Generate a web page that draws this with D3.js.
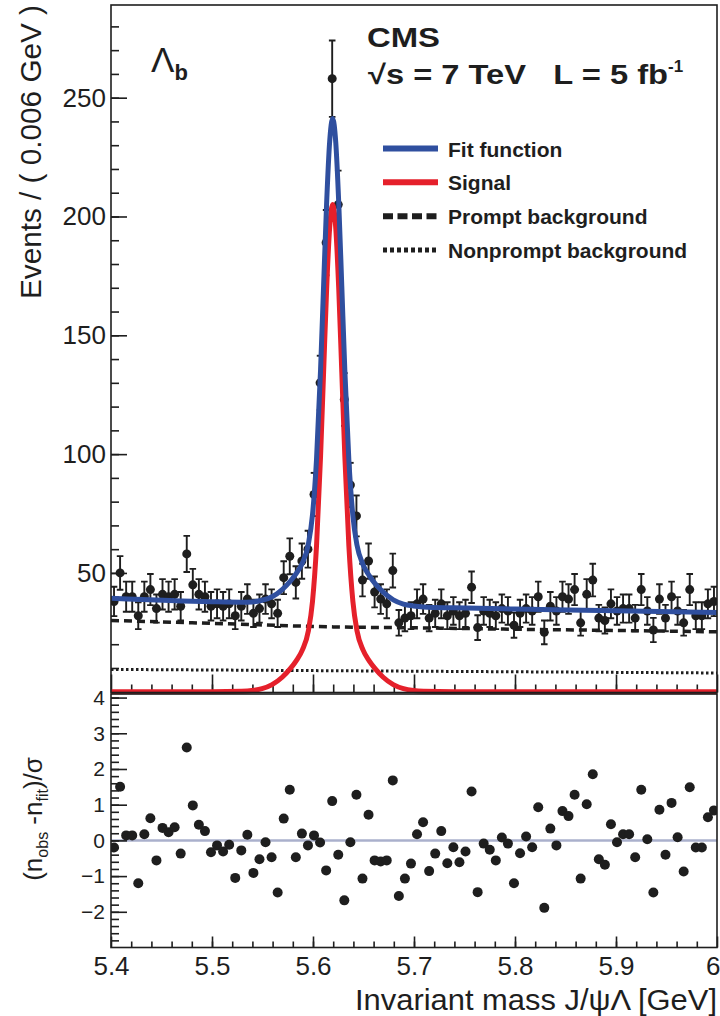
<!DOCTYPE html>
<html>
<head>
<meta charset="utf-8">
<script src="https://cdn.jsdelivr.net/npm/d3@7"></script>
<style>
  body { margin: 0; background: #fff; }
  text { font-family: 'Liberation Sans', Arial, Helvetica, sans-serif; fill: #1e1e1e; }
</style>
</head>
<body>
<div class="chart"></div>
<script>
// Lambda_b -> J/psi Lambda mass fit

// histogram: 100 bins of 0.006 GeV from 5.4 to 6.0
var binLow = 5.4, binWidth = 0.006;
var counts = [
  38, 50, 40, 40, 32, 40, 43, 35, 41, 40,
  41, 36, 58, 45, 41, 40, 36, 37, 36, 37,
  32, 36, 39, 33, 35, 39, 37, 33, 48, 57,
  46, 55, 60, 83, 130, 189, 258, 205, 123, 87,
  74, 47, 55, 42, 39, 37, 51, 29, 31, 32,
  37, 39, 31, 33, 37, 32, 34, 32, 33, 44,
  27, 34, 33, 32, 35, 34, 28, 33, 35, 34,
  40, 25, 36, 34, 40, 39, 43, 29, 41, 47,
  31, 30, 37, 34, 35, 35, 31, 43, 34, 26,
  39, 31, 40, 34, 29, 43, 32, 32, 37, 38
];
var pulls = [
  -0.20, 1.50, 0.14, 0.14, -1.20, 0.17, 0.62, -0.56, 0.35, 0.23,
  0.37, -0.37, 2.60, 0.98, 0.44, 0.26, -0.33, -0.14, -0.31, -0.12,
  -1.05, -0.28, 0.16, -0.91, -0.53, -0.05, -0.47, -1.46, 0.61, 1.42,
  -0.47, 0.19, -0.14, 0.14, -0.06, -0.84, 1.10, -0.40, -1.68, -0.05,
  1.28, -1.07, 0.72, -0.56, -0.59, -0.56, 1.68, -1.56, -1.07, -0.65,
  0.17, 0.51, -0.86, -0.37, 0.26, -0.64, -0.19, -0.61, -0.31, 1.37,
  -1.45, -0.09, -0.26, -0.56, 0.08, -0.09, -1.20, -0.36, 0.11, -0.19,
  0.93, -1.89, 0.33, -0.14, 0.82, 0.68, 1.28, -1.07, 1.01, 1.85,
  -0.53, -0.68, 0.45, -0.05, 0.17, 0.17, -0.47, 1.42, 0.03, -1.46,
  0.86, -0.40, 1.05, 0.09, -0.87, 1.49, -0.20, -0.20, 0.65, 0.84
];

// fit curves sampled along the mass axis
var curveMass = [
  5.4000, 5.4995, 5.5295, 5.5395, 5.5495, 5.5595, 5.5695, 5.5775, 5.5835, 5.5895,
  5.5955, 5.5995, 5.6035, 5.6075, 5.6105, 5.6135, 5.6165, 5.6195, 5.6225, 5.6255,
  5.6285, 5.6315, 5.6355, 5.6395, 5.6435, 5.6495, 5.6555, 5.6615, 5.6695, 5.6795,
  5.6895, 5.6995, 5.7095, 5.7395, 5.8000, 5.9000, 6.0000
];
var fitVals = [
  39.4, 37.9, 37.7, 37.8, 38.5, 40.0, 43.0, 46.5, 49.8, 54.2,
  62.3, 74.5, 97.9, 135.6, 170.9, 205.7, 231.5, 241.2, 231.4, 205.6,
  170.7, 135.4, 97.5, 74.0, 61.8, 53.5, 49.0, 45.5, 41.9, 38.7,
  36.9, 36.1, 35.7, 35.3, 34.8, 34.1, 33.3
];
var signalVals = [
  0, 0, 0.2, 0.5, 1.3, 3.0, 6.1, 9.7, 13.1, 17.6,
  25.8, 38.0, 61.5, 99.3, 134.6, 169.5, 195.3, 205.0, 195.3, 169.5,
  134.6, 99.3, 61.5, 38.0, 25.8, 17.6, 13.1, 9.7, 6.1, 3.0,
  1.3, 0.5, 0.2, 0, 0, 0, 0
];
var promptMass = [5.4, 5.5, 5.62, 5.7, 5.8, 5.9, 6.0];
var promptVals = [30.0, 28.8, 27.3, 26.9, 26.3, 25.8, 25.2];
var nonpromptMass = [5.4, 6.0];
var nonpromptVals = [9.4, 7.9];

var legendLabels = ['Fit function', 'Signal', 'Prompt background', 'Nonprompt background'];
var topTicks = [50, 100, 150, 200, 250];
var pullTicks = [-2, -1, 0, 1, 2, 3, 4];
var massTicks = [5.4, 5.5, 5.6, 5.7, 5.8, 5.9, 6.0];

var blue = '#2f4f9f', red = '#e5202b', ink = '#1e1e1e';

var W = 720, H = 1016;
var svg = d3.select('.chart').append('svg').attr('width', W).attr('height', H);
svg.append('rect').attr('width', W).attr('height', H).attr('fill', '#fff');

var fr = { left: 111, right: 717, top: 5, mid: 692.5, pullTop: 694, bottom: 947.5 };

var x = d3.scaleLinear().domain([5.4, 6.0]).range([fr.left, fr.right]);
var y = d3.scaleLinear().domain([0, 289]).range([691.75, fr.top]);
var yp = d3.scaleLinear().domain([-3, 4.1]).range([fr.bottom, fr.pullTop]);

svg.append('clipPath').attr('id', 'clipTop')
  .append('rect').attr('x', fr.left).attr('y', fr.top).attr('width', fr.right - fr.left).attr('height', fr.mid - fr.top + 2);
svg.append('clipPath').attr('id', 'clipBot')
  .append('rect').attr('x', fr.left).attr('y', fr.pullTop).attr('width', fr.right - fr.left).attr('height', fr.bottom - fr.pullTop);

function styleAxis(g, size) {
  g.select('.domain').remove();
  g.selectAll('line').attr('stroke', ink).attr('stroke-width', 1.6);
  g.selectAll('text').attr('font-size', size).attr('fill', ink)
    .style('font-family', "'Liberation Sans', Arial, sans-serif");
}

// ---- top panel axes
var gy = svg.append('g').attr('transform', 'translate(' + fr.left + ',0)')
  .call(d3.axisLeft(y).tickValues(topTicks).tickSize(-16).tickPadding(5).tickFormat(d3.format('d')));
styleAxis(gy, 26);
var gyMinor = svg.append('g').attr('transform', 'translate(' + fr.left + ',0)')
  .call(d3.axisLeft(y).tickValues(d3.range(10, 289, 10)).tickSize(-8).tickFormat(''));
styleAxis(gyMinor, 0);
var gxTop = svg.append('g').attr('transform', 'translate(0,' + fr.mid + ')')
  .call(d3.axisBottom(x).tickValues(massTicks).tickSize(-18).tickFormat(''));
styleAxis(gxTop, 0);
var gxTopMinor = svg.append('g').attr('transform', 'translate(0,' + fr.mid + ')')
  .call(d3.axisBottom(x).tickValues(d3.range(5.42, 5.999, 0.02)).tickSize(-8).tickFormat(''));
styleAxis(gxTopMinor, 0);

// ---- data (top)
var bins = counts.map(function(n, i) {
  return { m: binLow + binWidth * (i + 0.5), n: n, p: pulls[i] };
});

var gData = svg.append('g').attr('clip-path', 'url(#clipTop)');
var bar = gData.selectAll('.err').data(bins).enter().append('g').attr('class', 'err');
bar.append('line')
  .attr('x1', function(d) { return x(d.m); }).attr('x2', function(d) { return x(d.m); })
  .attr('y1', function(d) { return y(d.n + Math.sqrt(d.n)); })
  .attr('y2', function(d) { return y(d.n - Math.sqrt(d.n)); })
  .attr('stroke', ink).attr('stroke-width', 1.9);
[1, -1].forEach(function(s) {
  bar.append('line')
    .attr('x1', function(d) { return x(d.m) - 3.3; }).attr('x2', function(d) { return x(d.m) + 3.3; })
    .attr('y1', function(d) { return y(d.n + s * Math.sqrt(d.n)); })
    .attr('y2', function(d) { return y(d.n + s * Math.sqrt(d.n)); })
    .attr('stroke', ink).attr('stroke-width', 1.9);
});
gData.selectAll('.pt').data(bins).enter().append('circle').attr('class', 'pt')
  .attr('cx', function(d) { return x(d.m); })
  .attr('cy', function(d) { return y(d.n); })
  .attr('r', 4.5).attr('fill', ink);

// ---- fit curves
function pairs(xs, ys) { return xs.map(function(m, i) { return [m, ys[i]]; }); }
var line = d3.line().x(function(d) { return x(d[0]); }).y(function(d) { return y(d[1]); })
  .curve(d3.curveMonotoneX);

var gCurves = svg.append('g').attr('clip-path', 'url(#clipTop)');
gCurves.append('path').attr('d', line(pairs(nonpromptMass, nonpromptVals)))
  .attr('fill', 'none').attr('stroke', ink).attr('stroke-width', 3).attr('stroke-dasharray', '2.5,2.5');
gCurves.append('path').attr('d', line(pairs(promptMass, promptVals)))
  .attr('fill', 'none').attr('stroke', ink).attr('stroke-width', 3.5).attr('stroke-dasharray', '8,5');
gCurves.append('path').attr('d', line(pairs(curveMass, signalVals)))
  .attr('fill', 'none').attr('stroke', red).attr('stroke-width', 5);
gCurves.append('path').attr('d', line(pairs(curveMass, fitVals)))
  .attr('fill', 'none').attr('stroke', blue).attr('stroke-width', 5);

// ---- bottom panel
svg.append('line').attr('x1', fr.left).attr('x2', fr.right).attr('y1', yp(0)).attr('y2', yp(0))
  .attr('stroke', '#aab0cc').attr('stroke-width', 2.5);
svg.append('g').attr('clip-path', 'url(#clipBot)')
  .selectAll('circle').data(bins).enter().append('circle')
  .attr('cx', function(d) { return x(d.m); })
  .attr('cy', function(d) { return yp(d.p); })
  .attr('r', 5).attr('fill', ink);

var gp = svg.append('g').attr('transform', 'translate(' + fr.left + ',0)')
  .call(d3.axisLeft(yp).tickValues(pullTicks).tickSize(-16).tickPadding(6).tickFormat(d3.format('d')));
styleAxis(gp, 21);
var gpMinor = svg.append('g').attr('transform', 'translate(' + fr.left + ',0)')
  .call(d3.axisLeft(yp).tickValues(d3.range(-2.8, 4.05, 0.2)).tickSize(-8).tickFormat(''));
styleAxis(gpMinor, 0);
var gx = svg.append('g').attr('transform', 'translate(0,' + fr.bottom + ')')
  .call(d3.axisBottom(x).tickValues(massTicks).tickSize(-11).tickPadding(9)
    .tickFormat(function(d) { return d === 6 ? '6' : d3.format('.1f')(d); }));
styleAxis(gx, 26);
// last label sits at the page edge: keep it inside
gx.selectAll('.tick').filter(function(d) { return d === 6; }).select('text')
  .attr('text-anchor', 'end').attr('x', 3);
var gxMinor = svg.append('g').attr('transform', 'translate(0,' + fr.bottom + ')')
  .call(d3.axisBottom(x).tickValues(d3.range(5.42, 5.999, 0.02)).tickSize(-6).tickFormat(''));
styleAxis(gxMinor, 0);

// ---- frames
svg.append('rect').attr('x', fr.left).attr('y', fr.top).attr('width', fr.right - fr.left).attr('height', fr.mid - fr.top)
  .attr('fill', 'none').attr('stroke', ink).attr('stroke-width', 1.6);
svg.append('rect').attr('x', fr.left).attr('y', fr.pullTop).attr('width', fr.right - fr.left).attr('height', fr.bottom - fr.pullTop)
  .attr('fill', 'none').attr('stroke', ink).attr('stroke-width', 1.6);

// ---- titles
svg.append('text').attr('transform', 'translate(41,' + fr.top + ') rotate(-90)')
  .attr('text-anchor', 'end').attr('font-size', 29)
  .attr('textLength', 294).attr('lengthAdjust', 'spacingAndGlyphs')
  .text('Events / ( 0.006 GeV )');

var pt = svg.append('text').attr('transform', 'translate(42,' + yp(0.6) + ') rotate(-90)')
  .attr('text-anchor', 'middle').attr('font-size', 26);
pt.append('tspan').text('(n');
pt.append('tspan').attr('font-size', 16).attr('dy', 6).text('obs');
pt.append('tspan').attr('dy', -6).text(' -n');
pt.append('tspan').attr('font-size', 16).attr('dy', 6).text('fit');
pt.append('tspan').attr('dy', -6).text(')/σ');

svg.append('text').attr('x', fr.right).attr('y', 1010).attr('text-anchor', 'end')
  .attr('font-size', 29).attr('textLength', 362).attr('lengthAdjust', 'spacingAndGlyphs')
  .text('Invariant mass J/ψΛ [GeV]');

// ---- labels
var lb = svg.append('text').attr('x', 151).attr('y', 72).attr('font-size', 35);
lb.append('tspan').text('Λ');
lb.append('tspan').attr('font-size', 22).attr('font-weight', 'bold').attr('dy', 8).text('b');

svg.append('text').attr('x', 367).attr('y', 47).attr('font-size', 27).attr('font-weight', 'bold')
  .attr('textLength', 73).attr('lengthAdjust', 'spacingAndGlyphs').text('CMS');
var en = svg.append('text').attr('x', 368).attr('y', 84).attr('font-size', 27).attr('font-weight', 'bold')
  .style('white-space', 'pre');
en.append('tspan').attr('textLength', 300).attr('lengthAdjust', 'spacingAndGlyphs')
  .text('√s = 7 TeV   L = 5 fb');
en.append('tspan').attr('font-size', 17).attr('dy', -12).text('-1');

// ---- legend
var legendStyles = [
  { stroke: blue, width: 6, dash: null },
  { stroke: red, width: 6, dash: null },
  { stroke: ink, width: 6, dash: '10,4.5' },
  { stroke: ink, width: 5, dash: '4,3' }
];
var legendY = d3.scalePoint().domain(legendLabels).range([148.5, 250]);
var leg = svg.append('g').selectAll('g').data(legendLabels).enter().append('g')
  .attr('transform', function(d) { return 'translate(0,' + legendY(d) + ')'; });
leg.append('line').attr('x1', 383).attr('x2', 438)
  .attr('stroke', function(d, i) { return legendStyles[i].stroke; })
  .attr('stroke-width', function(d, i) { return legendStyles[i].width; })
  .attr('stroke-dasharray', function(d, i) { return legendStyles[i].dash; });
leg.append('text').attr('x', 448).attr('y', 8).attr('font-size', 21).attr('font-weight', 'bold')
  .text(function(d) { return d; });
</script>
</body>
</html>
